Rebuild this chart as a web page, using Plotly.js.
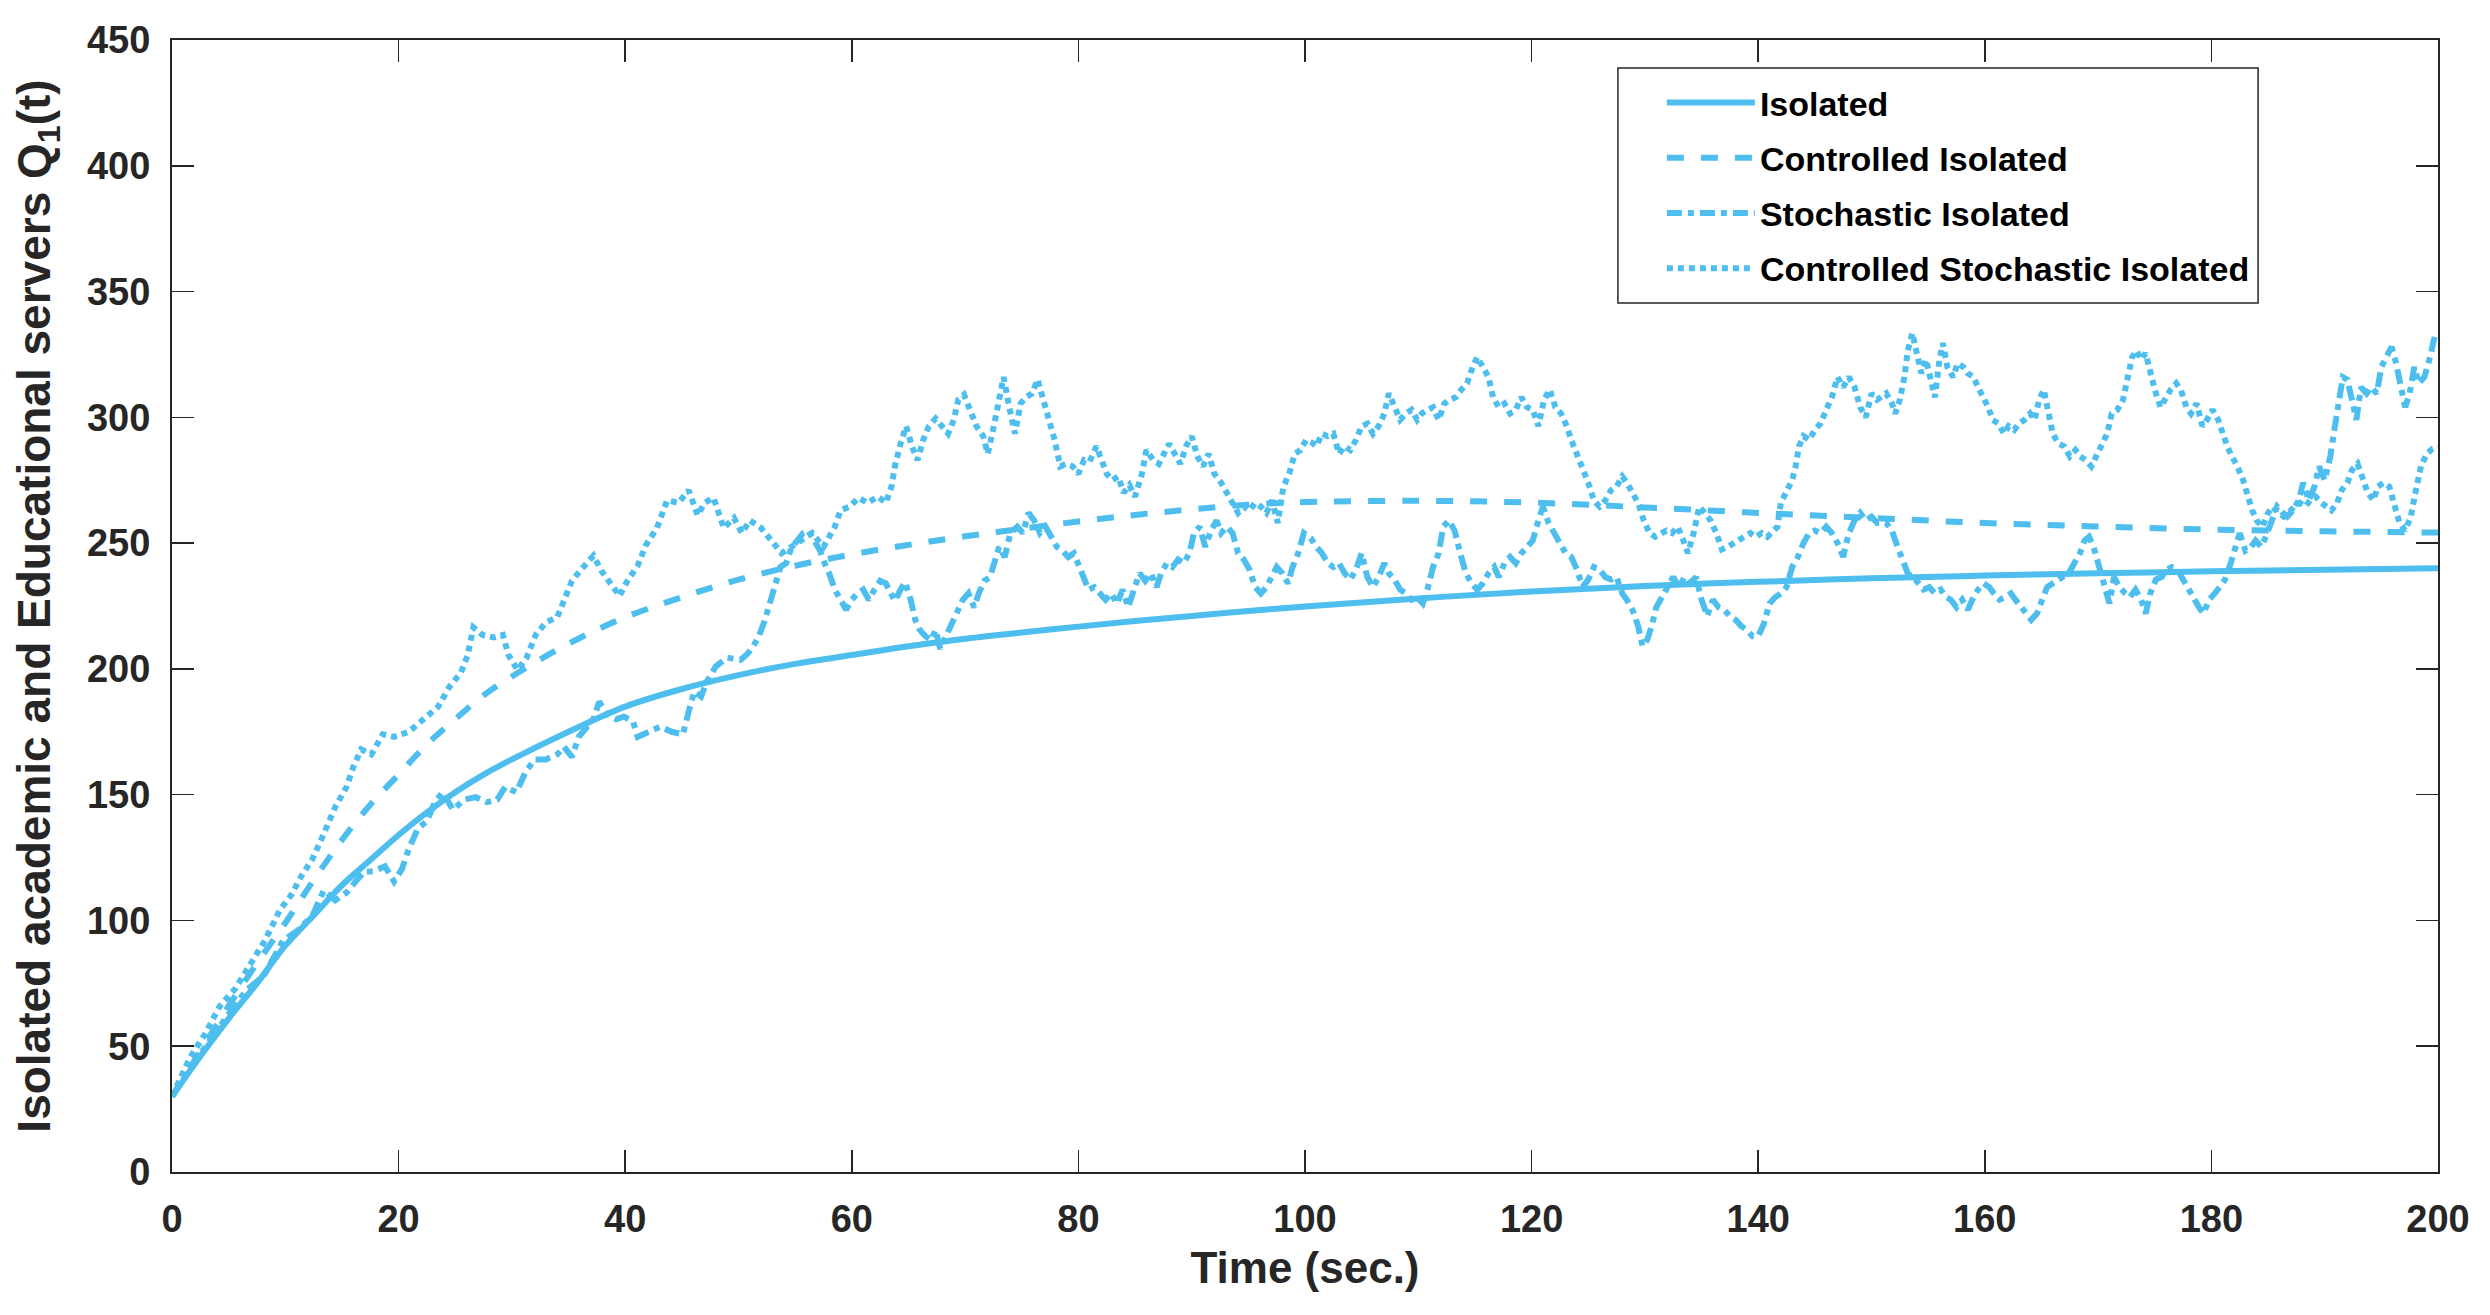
<!DOCTYPE html>
<html>
<head>
<meta charset="utf-8">
<script src="https://cdn.plot.ly/plotly-3.0.1.min.js"></script>
<style>html,body{margin:0;padding:0;background:#fff;}#chart{width:2490px;height:1315px;}</style>
</head>
<body>
<div id="chart"></div>
<script>
// ---------- data ----------
const seriesNames = ['Isolated', 'Controlled Isolated', 'Stochastic Isolated', 'Controlled Stochastic Isolated'];
const xTicks = [0, 20, 40, 60, 80, 100, 120, 140, 160, 180, 200];
const yTicks = [0, 50, 100, 150, 200, 250, 300, 350, 400, 450];

// smooth curves: time (sec.) and value
const smoothT = [0, 2.5, 5, 7.5, 10, 12.5, 15, 17.5, 20, 22.5, 25, 27.5, 30, 35, 40, 45, 50, 55, 60, 65, 70, 75, 80, 85, 90, 95, 100, 110, 120, 130, 140, 150, 160, 170, 180, 190, 200];
const isolatedV = [30, 46, 61, 75, 90, 102, 114, 124, 134, 143, 151, 158, 164, 175, 185, 192, 197.5, 202, 205.5, 209, 212, 214.5, 216.8, 219, 221, 223, 224.8, 228, 230.8, 233, 234.6, 236, 237.1, 238, 238.8, 239.4, 240];
const controlledV = [30, 48, 66, 83, 99, 116, 132, 146, 158, 170, 180, 189.5, 197, 210, 220.5, 228.5, 235.5, 241, 245.5, 249.3, 252.7, 255.7, 258.6, 261.2, 263.4, 265.3, 266.3, 266.8, 266.1, 264.2, 262, 260, 258, 256.6, 255.4, 254.7, 254.2];

// noisy curves: [time, value] pairs
const stochasticPts = [
[0,30],[3.2,51.6],[6.5,72],[8.1,78],[9.8,92],[11.1,96],[12.4,102],[13.4,112],[14.4,108],[15.4,111],[16.3,116],[17,119.5],[17.8,119.5],[18.8,121.5],[19.6,115.5],[20.3,120.5],[20.9,128.5],[21.7,136.5],[22.5,139.5],[23.2,147],[23.9,151],[24.8,144],[25.8,148],[26.8,149],[27.8,147],[28.7,148],[29.4,153],[30.4,151],[31.2,159],[32,164],[33,164],[34,166],[34.6,169],[35.3,165],[35.9,173],[36.6,177],[37.2,180],[37.7,187],[38.4,182],[39.2,180],[39.9,181],[40.7,179],[41.1,173],[42.1,175],[43.1,177],[44.1,175],[45.1,174],[45.6,183],[46.1,191],[46.7,189],[47.2,195],[48,201],[49,204.5],
[50.2,203.6],[50.8,206],[51.3,209],[51.8,213],[52.3,219],[52.8,227],[53.2,234],[53.7,240.5],[54.2,242],[54.7,248.5],[55.2,251],[55.7,254],[56.2,255],[56.7,251],[57.2,247],[57.6,242],[58,238],[58.5,231.5],[59,227.5],[59.5,223.5],[60,227.5],[60.5,230],[61,231.5],[61.5,227.5],[62,231.5],[62.5,235],[63,234],[63.4,230],[63.8,227],[64.3,231.5],[64.7,234.5],[65.2,227.5],[65.6,219.5],[66,215.5],[66.5,213],[67,211.5],[67.4,215.5],[67.8,208],[68.3,213],[68.8,218],[69.3,222],[69.8,227.5],[70.3,230],[70.8,224.5],[71.2,230],[71.7,235],[72.2,236.5],[72.6,242],[73,248.5],[73.5,244.5],[74,254],[74.6,256.5],[75.1,254],[75.6,262],[76.1,259],[76.6,254],[77.1,256.5],[77.6,252.5],[78.1,248.5],[78.6,247],[79.1,244.5],[79.6,246],[80.1,240.5],[80.5,235],[80.9,231.5],[81.4,232.5],[81.9,230],[82.4,227.5],[82.9,230],[83.4,226],[83.9,231.5],[84.4,224.5],[84.9,231.5],[85.4,238],[85.9,235],[86.4,238],[86.9,232.5],[87.3,238],[87.8,242],[88.3,240.5],[88.8,243.5],[89.3,242],[89.8,246],[90.2,254],[90.7,256.5],[91.2,248.5],[91.7,255],[92.2,259],[92.6,254],[93.1,256.5],[93.6,254],[94.1,246],[94.6,243.5],[95.1,239.5],[95.6,232.5],[96.1,230],[96.6,232.5],[97,236.5],[97.5,240.5],[98,238],[98.5,234],[98.9,240.5],[99.4,246],[99.9,254],
[100.5,252],[101,248.5],[101.5,246],[102,242],[102.5,240.5],[103,242],[103.5,238],[104,235.5],[104.5,239.5],[105,246],[105.5,236.5],[106,232.5],[106.5,236.5],[107,242],[107.4,238],[107.9,235.5],[108.4,231.5],[108.9,230],[109.4,227.5],[109.9,228.5],[110.4,226],[110.8,231.5],[111.3,240.5],[111.8,246],[112.2,256.5],[112.7,259],[113.2,255],[113.7,246],[114.2,238],[114.7,234],[115.2,231.5],[115.7,234],[116.2,238],[116.7,240.5],[117.1,236.5],[117.6,242],[118.1,244.5],[118.6,242],[119.1,246],[119.6,248.5],[120.1,251],[120.6,259],[121,264.5],[121.5,258],[122,254],[122.5,250],[123,246],[123.5,244.5],[124,239.5],[124.5,232.5],[125,235.5],[125.5,240.5],[126,239.5],[126.5,236.5],[127,235.5],[127.5,236.5],[128,230],[128.4,227.5],[128.9,223.5],[129.4,217],[129.8,209],[130.2,211.5],[130.6,217],[131,224.5],[131.5,228.5],[132,232.5],[132.5,236.5],[133,232.5],[133.5,236.5],[134,234],[134.5,236.5],[135,227.5],[135.5,221],[136,227.5],[136.5,224.5],[137,223.5],[137.5,221],[138,219.5],[138.5,217],[139,215.5],[139.5,213],[140,213],[140.5,218],[141,226],[141.5,228.5],[142,230],[142.5,232.5],[143,240.5],[143.5,244.5],[144,250],[144.5,254],[145,255],[145.5,254],[146,256.5],[146.5,254],[147,250],[147.5,244.5],[148,254],[148.5,259],[149,262],[149.5,259],[150,260.5],[150.5,258],
[151.3,258],[151.8,255],[152.3,248.5],[152.7,243.5],[153.2,238],[153.7,236.5],[154.2,234],[154.6,231.5],[155.1,232.5],[155.6,230],[156.1,231.5],[156.6,228.5],[157,227.5],[157.5,224.5],[158,227.5],[158.5,223.5],[158.9,227.5],[159.4,231.5],[159.9,234],[160.4,232.5],[160.8,230],[161.3,227.5],[161.8,228.5],[162.3,230],[162.7,227.5],[163.2,224.5],[163.7,222],[164.1,219.5],[164.6,222],[165.1,227.5],[165.5,232.5],[166,234],[166.5,235.5],[167,236.5],[167.4,238],[167.9,242],[168.4,246],[168.8,251],[169.2,252.5],[169.6,248.5],[170,242],[170.5,234],[171,226],[171.4,236.5],[171.9,232.5],[172.4,230],[172.8,228.5],[173.3,231.5],[173.8,227.5],[174.2,222],[174.6,230],[175.1,235.5],[175.6,236.5],[176.1,239.5],[176.5,240.5],[177,239.5],[177.5,235.5],[177.9,231.5],[178.4,228.5],[178.9,224.5],[179.3,222],[179.8,227.5],[180.3,230],[180.7,232.5],[181.2,235.5],[181.7,242],[182.1,248.5],[182.5,254],[183,247],[183.5,248.5],[183.9,251],[184.4,248.5],[184.8,252.5],[185.3,258],[185.8,264.5],[186.3,262],[186.7,260.5],[187.2,263],[187.7,267],[188.1,274],[188.6,267],[189.1,272.5],[189.5,280.5],[190,275],[190.5,284.5],[190.9,296.5],[191.3,309.5],[191.6,316],[192,315],[192.4,308],[192.8,299],[193.2,312],[193.7,309.5],[194.1,312],[194.6,309.5],[195,320],[195.5,324],[195.9,328],[196.3,321.5],[196.7,312],[197.1,304],[197.5,309.5],[197.9,320],[198.3,313.5],[198.8,316],[199.3,324],[199.7,332],[200,331]
];

const controlledStochasticPts = [
[0,30],[1.6,45.6],[2.9,54.7],[4.2,65.8],[5.6,73],[6.9,82],[8.2,92],[9.5,104],[10.5,110],[11.4,117.5],[12.4,124.5],[13.4,134.5],[14.4,145],[15.4,153],[16,161],[16.7,168],[17.6,166],[18.6,174],[19.6,173],[20.9,175],[22.2,180],[23.5,185],[24.5,193],[25.5,198.5],[26.1,205.5],[26.6,216.5],[27.4,213.5],[28.4,212.5],[29.2,213.5],[29.7,205.5],[30.5,199.5],[31.3,204.5],[32.1,213.5],[33,218.5],[34,220.5],[34.6,228],[35.3,235],[36.2,240],[37.2,245],[37.9,239],[38.7,234],[39.5,229],[40.2,235],[41.1,241],[41.8,249],[42.8,256],[43.7,267],[44.7,266],[45.6,271],[46.4,261],[47,266],[47.8,268],[48.7,256],[49.6,260],
[50.3,254],[51,259],[52,256],[53,250],[53.8,246],[54.5,248],[55.5,251],[56.5,254],[57.5,248.5],[58.5,256.5],[59,263],[59.8,264.5],[60.6,268],[61.4,266],[62.3,268.5],[63,266],[63.5,272.5],[63.8,280.5],[64.3,289.5],[64.8,296.5],[65.3,288.5],[65.8,283],[66.3,291],[66.8,296.5],[67.4,299.5],[68,296.5],[68.5,293.5],[69,299],[69.4,307],[69.9,309],[70.4,303],[71,296.5],[71.6,292.5],[72,285.5],[72.4,293.5],[72.9,305.5],[73.4,316],[73.9,304],[74.4,293.5],[74.9,305.5],[75.4,308],[75.9,309.5],[76.4,315],[76.9,307],[77.4,299],[77.9,291],[78.4,280.5],[78.9,281.5],[79.5,280.5],[80,277.5],[80.5,283],[81,282.5],[81.6,288.5],[82.1,283],[82.5,277.5],[83,275],[83.5,276.5],[84,270],[84.5,273],[85,268.5],[85.6,277.5],[86,287],[86.6,283],[87.1,281.5],[87.6,285.5],[88,289.5],[88.5,285.5],[89,281.5],[89.5,288.5],[90,292.5],[90.5,284.5],[91,280.5],[91.5,285.5],[92,277.5],[92.6,274],[93.1,270],[93.6,267],[94.1,262],[94.6,264.5],[95.1,263],[95.6,266],[96.1,264.5],[96.6,262],[97.1,267],[97.6,258],[98.1,272.5],[98.6,277.5],[99.1,285.5],[99.6,287],[100.1,291],
[100.6,290],[101,288.5],[101.5,293.5],[102,292.5],[102.5,293.5],[103,285.5],[103.5,288.5],[104,287],[104.5,291],[105,296.5],[105.5,297.5],[106,293.5],[106.5,296.5],[107,301.5],[107.4,309.5],[107.9,304],[108.4,299],[108.9,301.5],[109.4,303],[109.9,299],[110.3,301.5],[110.8,303],[111.3,304],[111.8,299],[112.3,305.5],[112.8,307],[113.3,308],[113.8,311],[114.3,313.5],[114.8,320],[115.2,324],[115.7,320],[116.2,316],[116.6,308],[117.1,304],[117.6,305.5],[118.1,301.5],[118.6,303],[119.1,308],[119.6,304],[120.1,303],[120.6,296.5],[121.1,307],[121.6,311],[122.1,304],[122.6,301.5],[123.1,296.5],[123.5,291],[124,285.5],[124.5,280.5],[125,274],[125.5,267],[126,264.5],[126.5,267],[127,271],[127.5,272.5],[128,276.5],[128.4,274],[128.9,270],[129.4,266],[129.9,259],[130.4,254],[130.9,252.5],[131.4,254],[131.9,255],[132.4,254],[132.9,256.5],[133.4,251],[133.8,246],[134.3,254],[134.8,264.5],[135.3,262],[135.8,259],[136.3,254],[136.8,247.5],[137.3,248.5],[137.8,250],[138.3,251],[138.8,252.5],[139.3,254],[139.8,252.5],[140.3,254],[140.8,252.5],[141.2,254],[141.7,256.5],[142,266],[142.5,271],[143,275],[143.3,280.5],[143.6,288.5],[144,292.5],[144.5,291],[145,295],[145.5,297.5],[146,303],[146.5,308],[147,316],[147.5,312],[148,316],[148.5,312],[149,304],[149.5,300],[150,309.5],[150.5,307],
[151.3,309.5],[151.8,305.5],[152.1,301.5],[152.5,307],[152.9,316],[153.2,326.5],[153.6,333.5],[154,326.5],[154.4,317.5],[154.8,323],[155.2,315],[155.6,308],[156,323],[156.3,329.5],[156.7,320],[157.2,316],[157.6,321.5],[158.1,320],[158.5,317.5],[159,316],[159.4,312],[159.9,308],[160.3,304],[160.7,299],[161.2,297.5],[161.7,293.5],[162.1,296.5],[162.6,295],[163,297.5],[163.5,299],[164,301.5],[164.4,299],[164.8,307],[165.2,311],[165.6,303],[166,293.5],[166.5,289.5],[167,288.5],[167.5,284.5],[168,287],[168.4,284.5],[168.9,283],[169.4,280.5],[169.8,284.5],[170.3,288.5],[170.8,293.5],[171.2,301.5],[171.7,303],[172.2,307],[172.6,315],[173,324],[173.4,326.5],[173.8,323],[174.2,325.5],[174.6,317.5],[175,311],[175.5,304],[176,308],[176.4,311],[176.9,313.5],[177.3,311],[177.8,304],[178.2,301.5],[178.7,305.5],[179.2,296.5],[179.6,299],[180.1,303],[180.6,299],[181,293.5],[181.4,288.5],[181.8,284.5],[182.3,280.5],[182.8,275],[183.2,268.5],[183.6,263],[184,259],[184.5,256.5],[185,262],[185.4,264.5],[185.9,262],[186.4,260.5],[186.8,262],[187.3,264.5],[187.8,266],[188.3,264.5],[188.7,267],[189.2,268.5],[189.7,266],[190.1,264.5],[190.6,263],[191.1,266],[191.5,271],[192,274],[192.4,279],[192.9,281.5],[193.4,275],[193.8,270],[194.3,267],[194.7,272.5],[195.2,274],[195.7,272.5],[196.1,266],[196.6,258],[197.1,255],[197.6,260.5],[198,270],[198.5,280.5],[199,285.5],[199.5,287.5],[200,288]
];

// ---------- drawing ----------
const blue = '#4DBEEE';
const fontFam = '"Liberation Sans", Arial, Helvetica, sans-serif';

const traces = [
  {x: smoothT, y: isolatedV, name: seriesNames[0], legendgroup: 'g1', mode: 'lines',
   line: {color: blue, width: 6, dash: 'solid', shape: 'spline'}},
  {x: smoothT, y: controlledV, name: seriesNames[1], legendgroup: 'g2', mode: 'lines',
   line: {color: blue, width: 6, dash: '17px,17px', shape: 'spline'}},
  {x: stochasticPts.map(p => p[0]), y: stochasticPts.map(p => p[1]), name: seriesNames[2], legendgroup: 'g3', mode: 'lines',
   line: {color: blue, width: 6, dash: '15px,6px,6px,6px'}},
  {x: controlledStochasticPts.map(p => p[0]), y: controlledStochasticPts.map(p => p[1]), name: seriesNames[3], legendgroup: 'g4', mode: 'lines',
   line: {color: blue, width: 6, dash: '6px,5px'}}
];

const axisCommon = {
  showgrid: false, zeroline: false, showline: true, linecolor: '#262626', linewidth: 2,
  mirror: 'ticks', ticks: 'inside', ticklen: 22, tickwidth: 1.5, tickcolor: '#262626',
  tickfont: {family: fontFam, size: 38, color: '#262626', weight: 'bold'}
};

const layout = {
  width: 2490, height: 1315,
  margin: {l: 172, r: 52, t: 40, b: 143, pad: 0},
  paper_bgcolor: '#ffffff', plot_bgcolor: '#ffffff',
  font: {family: fontFam, color: '#262626'},
  showlegend: true,
  xaxis: Object.assign({}, axisCommon, {
    range: [0, 200], tickmode: 'array', tickvals: xTicks, ticktext: xTicks.map(String),
    ticklabelstandoff: 12,
    title: {text: 'Time (sec.)', font: {family: fontFam, size: 44, color: '#262626', weight: 'bold'}, standoff: 14}
  }),
  yaxis: Object.assign({}, axisCommon, {
    range: [0, 450], tickmode: 'array', tickvals: yTicks, ticktext: yTicks.map(String),
    ticklabelstandoff: 12,
    title: {text: 'Isolated academic and Educational servers Q<sub>1</sub>(t)', font: {family: fontFam, size: 46, color: '#262626', weight: 'bold'}, standoff: 22}
  }),
  legend: {
    x: 0.6575, y: 0.97, xanchor: 'left', yanchor: 'top',
    bgcolor: 'rgba(255,255,255,0)', borderwidth: 0,
    itemwidth: 88, traceorder: 'grouped', tracegroupgap: 8,
    font: {family: fontFam, size: 34, color: '#000000', weight: 'bold'}
  },
  shapes: [
    {type: 'rect', xref: 'paper', yref: 'paper', x0: 0.6381, x1: 0.9206, y0: 0.7677, y1: 0.9753,
     line: {color: '#262626', width: 1.5}, fillcolor: 'rgba(0,0,0,0)', layer: 'above'}
  ]
};

Plotly.newPlot('chart', traces, layout, {staticPlot: true, displayModeBar: false});
</script>
</body>
</html>
